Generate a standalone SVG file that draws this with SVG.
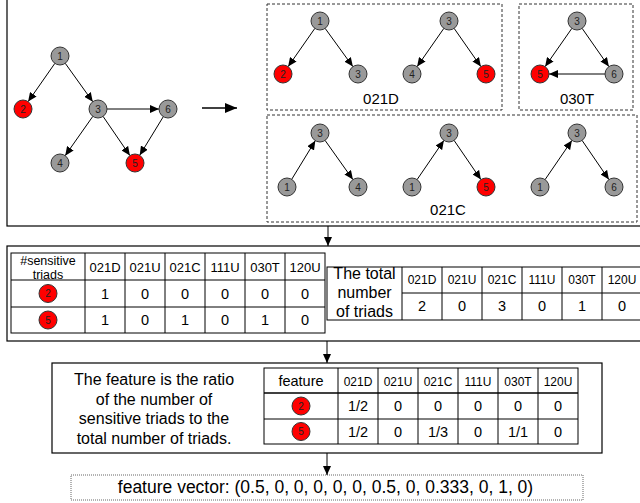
<svg xmlns="http://www.w3.org/2000/svg" width="640" height="503" viewBox="0 0 640 503">
<style>
text{font-family:"Liberation Sans",Arial,sans-serif;fill:#000}
.box{fill:none;stroke:#000;stroke-width:1.2}
.dash{fill:none;stroke:#333;stroke-width:1;stroke-dasharray:3 2}
.dot{fill:none;stroke:#666;stroke-width:1;stroke-dasharray:1 1}
.g{fill:#999;stroke:#333;stroke-width:1}
.r{fill:#f00;stroke:#333;stroke-width:1}
.nl{font-size:10px;text-anchor:middle;fill:#222}
.e{stroke:#000;stroke-width:1;fill:none;marker-end:url(#ah)}
.tl{stroke:#000;stroke-width:1;fill:none}
.th{stroke:#000;stroke-width:1.6}
.hd{font-size:12px;text-anchor:middle}
.hd1{font-size:13px;text-anchor:middle}
.v{font-size:14.5px;text-anchor:middle}
.lab{font-size:15px;text-anchor:middle}
.big{font-size:16px;text-anchor:middle}
</style>
<defs>
<marker id="ah" markerUnits="userSpaceOnUse" markerWidth="9" markerHeight="8" refX="9" refY="4" orient="auto">
<path d="M0,0 L9,4 L0,8 z" fill="#000"/>
</marker>
<marker id="ahb" markerUnits="userSpaceOnUse" markerWidth="12" markerHeight="10" refX="12" refY="5" orient="auto">
<path d="M0,0 L12,5 L0,10 z" fill="#000"/>
</marker>
</defs>

<!-- frames -->
<g id="frames">
<rect class="box" x="7" y="-2" width="640" height="228"/>
<rect class="dash" x="267" y="4" width="235" height="106"/>
<rect class="dash" x="519" y="4" width="114" height="106"/>
<rect class="dash" x="267" y="115" width="370" height="107"/>
<rect class="box" x="7" y="246" width="640" height="95"/>
<rect class="box" x="52" y="363" width="550" height="90"/>
<rect class="dot" x="71" y="475" width="512" height="25"/>
</g>

<!-- connectors -->
<g id="connectors">
<line class="e" x1="54.85" y1="63.38" x2="28.15" y2="101.62"/>
<line class="e" x1="65.24" y1="63.31" x2="92.76" y2="101.69"/>
<line class="e" x1="107" y1="109" x2="159" y2="109"/>
<line class="e" x1="92.82" y1="116.36" x2="65.18" y2="155.64"/>
<line class="e" x1="103.09" y1="116.42" x2="129.91" y2="155.58"/>
<line class="e" x1="163.31" y1="116.68" x2="139.69" y2="155.32"/>
<line x1="202" y1="108" x2="237" y2="108" stroke="#000" stroke-width="1.3" marker-end="url(#ahb)"/>
<!-- 021D -->
<line class="e" x1="314.85" y1="28.38" x2="288.15" y2="66.62"/>
<line class="e" x1="325.15" y1="28.38" x2="352.85" y2="66.62"/>
<line class="e" x1="443.85" y1="28.38" x2="417.15" y2="66.62"/>
<line class="e" x1="454.15" y1="28.38" x2="480.85" y2="66.62"/>
<!-- 030T -->
<line class="e" x1="571.85" y1="28.38" x2="545.15" y2="66.62"/>
<line class="e" x1="582.15" y1="28.38" x2="608.85" y2="66.62"/>
<line class="e" x1="605" y1="74" x2="549" y2="74"/>
<!-- 021C -->
<line class="e" x1="291.69" y1="179.32" x2="315.31" y2="140.68"/>
<line class="e" x1="325.09" y1="140.42" x2="352.91" y2="179.58"/>
<line class="e" x1="417.09" y1="179.58" x2="443.91" y2="140.42"/>
<line class="e" x1="454.09" y1="140.42" x2="480.91" y2="179.58"/>
<line class="e" x1="545.09" y1="179.58" x2="571.91" y2="140.42"/>
<line class="e" x1="582.09" y1="140.42" x2="608.91" y2="179.58"/>
<!-- flow arrows -->
<line class="e" x1="328" y1="226" x2="328" y2="246"/>
<line class="e" x1="327" y1="341" x2="327" y2="363"/>
<line class="e" x1="327" y1="453" x2="327" y2="475"/>
</g>

<!-- main graph -->
<g id="n1"><circle class="g" cx="60" cy="56" r="9"/><text class="nl" x="60" y="59.5">1</text></g>
<g id="n2"><circle class="r" cx="23" cy="109" r="9"/><text class="nl" x="23" y="112.5">2</text></g>
<g id="n3"><circle class="g" cx="98" cy="109" r="9"/><text class="nl" x="98" y="112.5">3</text></g>
<g id="n6"><circle class="g" cx="168" cy="109" r="9"/><text class="nl" x="168" y="112.5">6</text></g>
<g id="n4"><circle class="g" cx="60" cy="163" r="9"/><text class="nl" x="60" y="166.5">4</text></g>
<g id="n5"><circle class="r" cx="135" cy="163" r="9"/><text class="nl" x="135" y="166.5">5</text></g>

<!-- 021D -->
<g id="t021D">
<circle class="g" cx="320" cy="21" r="9"/><text class="nl" x="320" y="24.5">1</text>
<circle class="r" cx="283" cy="74" r="9"/><text class="nl" x="283" y="77.5">2</text>
<circle class="g" cx="358" cy="74" r="9"/><text class="nl" x="358" y="77.5">3</text>
<circle class="g" cx="449" cy="21" r="9"/><text class="nl" x="449" y="24.5">3</text>
<circle class="g" cx="412" cy="74" r="9"/><text class="nl" x="412" y="77.5">4</text>
<circle class="r" cx="486" cy="74" r="9"/><text class="nl" x="486" y="77.5">5</text>
<text class="lab" x="381" y="104">021D</text>
</g>
<!-- 030T -->
<g id="t030T">
<circle class="g" cx="577" cy="21" r="9"/><text class="nl" x="577" y="24.5">3</text>
<circle class="r" cx="540" cy="74" r="9"/><text class="nl" x="540" y="77.5">5</text>
<circle class="g" cx="614" cy="74" r="9"/><text class="nl" x="614" y="77.5">6</text>
<text class="lab" x="577" y="104">030T</text>
</g>
<!-- 021C -->
<g id="t021C">
<circle class="g" cx="320" cy="133" r="9"/><text class="nl" x="320" y="136.5">3</text>
<circle class="g" cx="287" cy="187" r="9"/><text class="nl" x="287" y="190.5">1</text>
<circle class="g" cx="358" cy="187" r="9"/><text class="nl" x="358" y="190.5">4</text>
<circle class="g" cx="449" cy="133" r="9"/><text class="nl" x="449" y="136.5">3</text>
<circle class="g" cx="412" cy="187" r="9"/><text class="nl" x="412" y="190.5">1</text>
<circle class="r" cx="486" cy="187" r="9"/><text class="nl" x="486" y="190.5">5</text>
<circle class="g" cx="577" cy="133" r="9"/><text class="nl" x="577" y="136.5">3</text>
<circle class="g" cx="540" cy="187" r="9"/><text class="nl" x="540" y="190.5">1</text>
<circle class="g" cx="614" cy="187" r="9"/><text class="nl" x="614" y="190.5">6</text>
<text class="lab" x="448" y="215">021C</text>
</g>

<!-- table 1 -->
<g id="table1">
<rect class="tl" x="11" y="253" width="314" height="80"/>
<path class="tl" d="M11,280H325M11,307H325M85,253V333M125,253V333M165,253V333M205,253V333M245,253V333M285,253V333"/>
<text x="48" y="264.5" style="font-size:12.5px;text-anchor:middle">#sensitive</text>
<text x="48" y="278.5" style="font-size:12.5px;text-anchor:middle">triads</text>
<text class="hd1" x="105" y="271.5">021D</text><text class="hd1" x="145" y="271.5">021U</text><text class="hd1" x="185" y="271.5">021C</text>
<text class="hd1" x="225" y="271.5">111U</text><text class="hd1" x="265" y="271.5">030T</text><text class="hd1" x="305" y="271.5">120U</text>
<circle class="r" cx="48" cy="293.5" r="9"/><text class="nl" x="48" y="297">2</text>
<circle class="r" cx="48" cy="320" r="9"/><text class="nl" x="48" y="323.5">5</text>
<text class="v" x="105" y="298.5">1</text><text class="v" x="145" y="298.5">0</text><text class="v" x="185" y="298.5">0</text>
<text class="v" x="225" y="298.5">0</text><text class="v" x="265" y="298.5">0</text><text class="v" x="305" y="298.5">0</text>
<text class="v" x="105" y="325">1</text><text class="v" x="145" y="325">0</text><text class="v" x="185" y="325">1</text>
<text class="v" x="225" y="325">0</text><text class="v" x="265" y="325">1</text><text class="v" x="305" y="325">0</text>
</g>

<!-- table 2 -->
<g id="table2">
<rect class="tl" x="327" y="267" width="315" height="53"/>
<path class="tl" d="M402,293H642M402,267V320M442,267V320M482,267V320M522,267V320M562,267V320M602,267V320"/>
<text class="big" x="364.5" y="278.5">The total</text>
<text class="big" x="364.5" y="298">number</text>
<text class="big" x="364.5" y="317">of triads</text>
<text class="hd" x="422" y="284">021D</text><text class="hd" x="462" y="284">021U</text><text class="hd" x="502" y="284">021C</text>
<text class="hd" x="542" y="284">111U</text><text class="hd" x="582" y="284">030T</text><text class="hd" x="622" y="284">120U</text>
<text class="v" x="422" y="311">2</text><text class="v" x="462" y="311">0</text><text class="v" x="502" y="311">3</text>
<text class="v" x="542" y="311">0</text><text class="v" x="582" y="311">1</text><text class="v" x="622" y="311">0</text>
</g>

<!-- ratio text -->
<g id="ratio">
<text class="big" x="154" y="385">The feature is the ratio</text>
<text class="big" x="154" y="404.5">of the number of</text>
<text class="big" x="154" y="424">sensitive triads to the</text>
<text class="big" x="154" y="443.5">total number of triads.</text>
</g>

<!-- table 3 -->
<g id="table3">
<rect class="tl" x="264" y="368" width="314" height="76"/>
<path class="tl" d="M264,419H578M338,368V444M378,368V444M418,368V444M458,368V444M498,368V444M538,368V444"/>
<path class="th" d="M264,393H578"/>
<text x="301" y="385.5" style="font-size:14.5px;text-anchor:middle">feature</text>
<text class="hd" x="358" y="386">021D</text><text class="hd" x="398" y="386">021U</text><text class="hd" x="438" y="386">021C</text>
<text class="hd" x="478" y="386">111U</text><text class="hd" x="518" y="386">030T</text><text class="hd" x="558" y="386">120U</text>
<circle class="r" cx="301" cy="406" r="9"/><text class="nl" x="301" y="409.5">2</text>
<circle class="r" cx="301" cy="431.5" r="9"/><text class="nl" x="301" y="435">5</text>
<text class="v" x="358" y="411">1/2</text><text class="v" x="398" y="411">0</text><text class="v" x="438" y="411">0</text>
<text class="v" x="478" y="411">0</text><text class="v" x="518" y="411">0</text><text class="v" x="558" y="411">0</text>
<text class="v" x="358" y="436.5">1/2</text><text class="v" x="398" y="436.5">0</text><text class="v" x="438" y="436.5">1/3</text>
<text class="v" x="478" y="436.5">0</text><text class="v" x="518" y="436.5">1/1</text><text class="v" x="558" y="436.5">0</text>
</g>

<!-- feature vector -->
<g id="vector">
<text x="325.5" y="493" style="font-size:17.5px;text-anchor:middle">feature vector: (0.5, 0, 0, 0, 0, 0, 0.5, 0, 0.333, 0, 1, 0)</text>
</g>
</svg>
